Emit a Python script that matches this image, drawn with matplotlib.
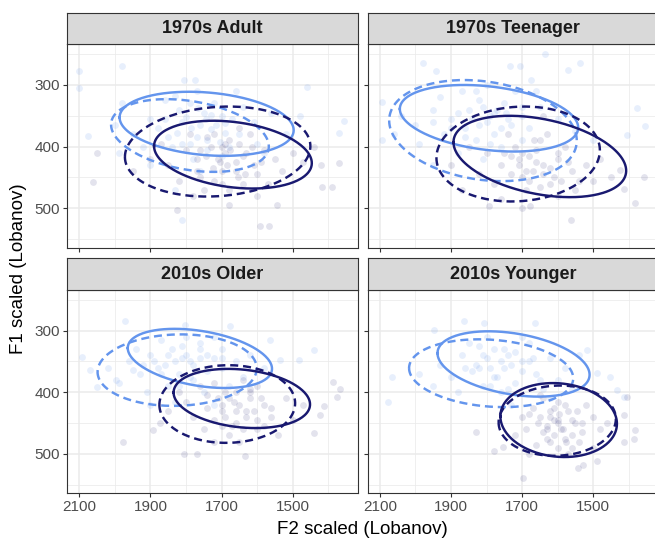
import numpy as np
import matplotlib.pyplot as plt

plt.rcParams['font.family'] = ['Liberation Sans', 'DejaVu Sans']

facets = ["1970s Adult", "1970s Teenager", "2010s Older", "2010s Younger"]

adult_light = [(1760,365),(1700,350),(1820,340),(1880,370),(1650,380),(1790,395),(1720,330),(1900,355),
               (1610,360),(1840,400),(1770,310),(1680,400),(1950,380),(1560,345),(1730,372),(1810,360),
               (1860,325),(1640,335),(2000,365),(1700,415),(1780,420),(1520,380),(1920,400),(1750,345),
               (1850,385),(1600,395),(1690,362),(1980,330),(1740,390),(1830,318),(2100,278),(2100,305),
               (1981,270),(2075,383),(1807,292),(1774,292),(1460,304),(1356,359),(1370,378),(1480,350),
               (1580,410),(1900,430),(1660,310),(1760,440),(1990,410),(1830,470),(1812,519),
               (1745,355),(1785,370),(1715,365),(1800,352),(1770,385),(1730,348),(1825,378),(1690,378),
               (1765,338),(1810,395),(1740,405),(1860,355),(1705,392),(1790,330),(1670,355)]
adult_dark = [(1690,410),(1650,395),(1730,400),(1770,420),(1610,430),(1700,440),(1740,385),(1580,405),
              (1660,425),(1800,405),(1620,380),(1720,455),(1550,420),(1850,430),(1680,390),(1760,450),
              (1500,410),(1640,460),(1790,380),(1710,420),(1600,445),(1870,395),(1530,440),(1680,470),
              (1820,455),(1470,425),(1750,470),(1650,370),(1900,420),(1570,460),(1700,400),(1630,410),
              (1760,405),(1950,440),(1440,400),(1420,430),(1370,427),(1417,465),(1389,465),(1680,495),
              (1544,495),(1591,529),(1567,529),(1826,503),(2051,411),(2061,457),(1780,480),(1600,480),
              (1675,405),(1705,425),(1660,440),(1725,435),(1640,415),(1690,395),(1745,415),(1615,400),
              (1700,460),(1655,450),(1770,440),(1590,425),(1720,380),(1635,445),(1685,430)]
teen_light = [(1800,360),(1850,340),(1750,330),(1900,355),(1700,350),(1950,340),(1780,380),(1830,390),
              (1680,370),(2000,365),(1870,310),(1720,310),(1800,300),(1920,380),(1650,335),(1760,400),
              (1990,395),(1600,355),(1820,325),(1880,410),(1740,355),(2040,350),(1700,390),(1550,375),
              (1860,370),(1780,345),(1930,320),(1810,420),(1660,310),(2060,380),(1980,265),(1943,277),
              (1735,269),(1707,270),(1636,249),(1537,264),(1570,276),(1674,292),(2093,327),(2093,389),
              (1377,338),(1353,366),(1405,381),(1500,390),(1950,430),
              (1790,350),(1820,365),(1770,340),(1840,355),(1760,370),(1880,345),(1810,335),(1730,365),
              (1860,385),(1790,395),(1900,370),(1745,345),(1830,310),(1700,335),(1950,360)]
teen_dark = [(1680,415),(1640,430),(1720,400),(1760,430),(1600,420),(1700,450),(1650,390),(1560,440),
             (1800,410),(1620,460),(1740,380),(1580,400),(1690,470),(1820,445),(1520,430),(1660,405),
             (1780,460),(1500,455),(1710,430),(1630,380),(1850,400),(1550,470),(1600,480),(1760,485),
             (1480,420),(1670,440),(1730,415),(1900,430),(1450,450),(1590,455),(1561,519),(1381,491),
             (1414,469),(1792,496),(1678,496),(1358,449),(1424,438),(1700,500),(1870,470),(1640,350),
             (1660,425),(1690,440),(1640,445),(1710,420),(1620,435),(1680,455),(1730,445),(1600,410),
             (1650,465),(1570,425),(1700,410),(1610,450),(1750,410),(1540,455),(1665,390)]
older_light = [(1790,350),(1840,330),(1740,340),(1880,360),(1700,360),(1820,370),(1760,320),(1900,340),
               (1660,350),(1850,390),(1780,380),(1930,370),(1720,310),(1960,350),(1640,375),(1800,310),
               (1870,315),(1750,400),(1990,385),(1620,340),(1810,345),(1700,330),(1910,400),(1770,365),
               (1580,360),(1860,355),(2020,360),(1680,390),(1830,415),(1940,330),(1971,285),(1802,291),
               (1676,293),(1563,315),(2093,342),(2070,363),(2051,391),(1997,380),(1948,363),(1535,347),
               (1483,347),(1441,331),(1900,420),(1720,420),
               (1800,340),(1780,355),(1830,350),(1760,345),(1850,340),(1810,325),(1740,365),(1870,370),
               (1720,345),(1790,375),(1890,350),(1760,330),(1820,390),(1700,345),(1920,355)]
older_dark = [(1665,415),(1620,400),(1700,430),(1740,405),(1580,420),(1660,450),(1720,385),(1560,440),
              (1640,380),(1780,440),(1600,460),(1690,400),(1520,410),(1750,460),(1630,430),(1800,415),
              (1500,445),(1680,470),(1600,390),(1710,410),(1820,400),(1540,470),(1650,480),(1760,390),
              (1470,420),(1580,455),(1700,455),(1850,430),(1620,410),(1660,430),(1976,480),(1807,500),
              (1770,500),(1633,503),(1441,466),(1413,423),(1385,383),(1366,394),(1375,407),(1422,437),
              (1892,461),(1873,450),(1720,480),
              (1650,420),(1680,410),(1630,440),(1700,420),(1610,430),(1660,400),(1720,445),(1590,410),
              (1670,455),(1740,425),(1560,425),(1640,460),(1690,440),(1600,445),(1620,395)]
younger_light = [(1750,360),(1800,345),(1700,350),(1840,365),(1660,370),(1780,330),(1720,385),(1870,340),
                 (1620,345),(1810,390),(1680,320),(1900,375),(1740,340),(1600,380),(1760,400),(1850,320),
                 (1640,395),(1930,355),(1700,310),(1580,360),(1820,360),(1780,375),(1950,390),(1560,395),
                 (1730,420),(1670,345),(1880,400),(1990,370),(1620,410),(1800,310),(1864,285),(1808,287),
                 (1664,287),(1947,299),(2065,375),(2076,415),(1518,331),(1490,369),(1452,375),(1433,396),
                 (1414,407),(1540,340),
                 (1760,350),(1790,360),(1730,355),(1810,340),(1770,375),(1700,365),(1830,355),(1750,330),
                 (1680,350),(1790,390),(1860,360),(1720,335),(1650,380),(1740,395),(1820,325)]
younger_dark = [(1600,445),(1570,430),(1630,455),(1650,440),(1550,450),(1610,470),(1580,420),(1670,425),
                (1530,465),(1620,480),(1640,410),(1560,490),(1690,460),(1500,440),(1600,415),(1660,485),
                (1520,420),(1700,440),(1590,460),(1620,430),(1480,460),(1650,405),(1570,500),(1720,470),
                (1540,480),(1610,445),(1580,475),(1680,500),(1500,490),(1630,460),(1697,539),(1829,464),
                (1778,496),(1754,488),(1542,523),(1528,518),(1490,511),(1381,461),(1386,475),(1414,480),
                (1405,407),(1414,437),(1460,450),
                (1600,450),(1620,440),(1585,460),(1640,465),(1560,445),(1610,425),(1575,480),(1655,450),
                (1530,450),(1600,490),(1630,475),(1560,470),(1680,435),(1595,435),(1545,430)]

light_pts = [adult_light, teen_light, older_light, younger_light]
dark_pts = [adult_dark, teen_dark, older_dark, younger_dark]

# ellipses per facet: light solid, light dashed, dark solid, dark dashed
ell_f2 = [[1742, 1789, 1668, 1711], [1793, 1810, 1650, 1711],
          [1761, 1825, 1643, 1684], [1724, 1787, 1597, 1601]]
ell_f1 = [[363, 382, 413, 408], [354, 374, 416, 412],
          [345, 364, 410, 419], [354, 369, 445, 446]]
ell_half_f2 = [[245, 222, 222, 261], [251, 264, 243, 230],
               [203, 224, 192, 191], [214, 231, 164, 165]]
ell_half_f1 = [[52, 59, 55, 73], [54, 82, 66, 77],
               [48, 58, 48, 63], [53, 55, 60, 57]]
ell_rho = [[-0.2, -0.3, -0.25, 0.12], [-0.28, -0.2, -0.35, 0.08],
           [-0.35, 0.05, -0.2, 0.02], [-0.33, -0.15, -0.1, 0.05]]

light = '#6495ED'
dark = '#191970'
ell_colors = [light, light, dark, dark]
ell_dashed = [False, True, False, True]

fig = plt.figure(figsize=(6.55, 5.38), dpi=100)

W, H = 655, 538
pw, ph = 291, 203.4
lefts = [67, 367.5, 67, 367.5]
tops = [44.3, 44.3, 290, 290]
strip_h = 31.8

t = np.linspace(0, 2 * np.pi, 240)

for i, name in enumerate(facets):
    ax = fig.add_axes([lefts[i] / W, 1 - (tops[i] + ph) / H, pw / W, ph / H])
    ax.set_xlim(2135, 1316)
    ax.set_ylim(564, 234)
    ax.set_xticks([2100, 1900, 1700, 1500])
    ax.set_xticks([2000, 1800, 1600, 1400], minor=True)
    ax.set_yticks([300, 400, 500])
    ax.set_yticks([250, 350, 450, 550], minor=True)
    ax.grid(which='major', color='#EBEBEB', lw=1.1)
    ax.grid(which='minor', color='#EBEBEB', lw=0.55)
    ax.set_axisbelow(True)
    for s in ax.spines.values():
        s.set_color('#333333')
        s.set_linewidth(0.8)
    ax.tick_params(which='major', length=2.6, width=0.8, color='#333333',
                   labelsize=11, labelcolor='#4D4D4D', pad=2.5)
    ax.tick_params(which='minor', length=0)
    if i < 2:
        ax.tick_params(axis='x', labelbottom=False)
    if i % 2 == 1:
        ax.tick_params(axis='y', labelleft=False)

    lx, ly = zip(*light_pts[i])
    dx, dy = zip(*dark_pts[i])
    ax.scatter(lx, ly, s=24, color=light, alpha=0.15, lw=0)
    ax.scatter(dx, dy, s=24, color=dark, alpha=0.12, lw=0)

    for k in range(4):
        r = ell_rho[i][k]
        ex = ell_f2[i][k] + ell_half_f2[i][k] * np.cos(t)
        ey = ell_f1[i][k] + ell_half_f1[i][k] * (r * np.cos(t) + np.sqrt(1 - r * r) * np.sin(t))
        line, = ax.plot(ex, ey, color=ell_colors[k], lw=1.75)
        if ell_dashed[k]:
            line.set_dashes((3.3, 2.0))

    sax = fig.add_axes([lefts[i] / W, 1 - tops[i] / H, pw / W, strip_h / H])
    sax.set_facecolor('#D9D9D9')
    sax.set_xticks([])
    sax.set_yticks([])
    for s in sax.spines.values():
        s.set_color('#333333')
        s.set_linewidth(0.8)
    sax.text(0.5, 0.5, name, ha='center', va='center', fontsize=13,
             fontweight='bold', color='#1A1A1A', transform=sax.transAxes)

fig.text(362 / W, 4.5 / H, 'F2 scaled (Lobanov)', ha='center', va='baseline', fontsize=13.5)
fig.text(18.5 / W, 1 - 269 / H, 'F1 scaled (Lobanov)', ha='center', va='center',
         rotation=90, fontsize=13.5)

fig.savefig('out.png', dpi=100)
